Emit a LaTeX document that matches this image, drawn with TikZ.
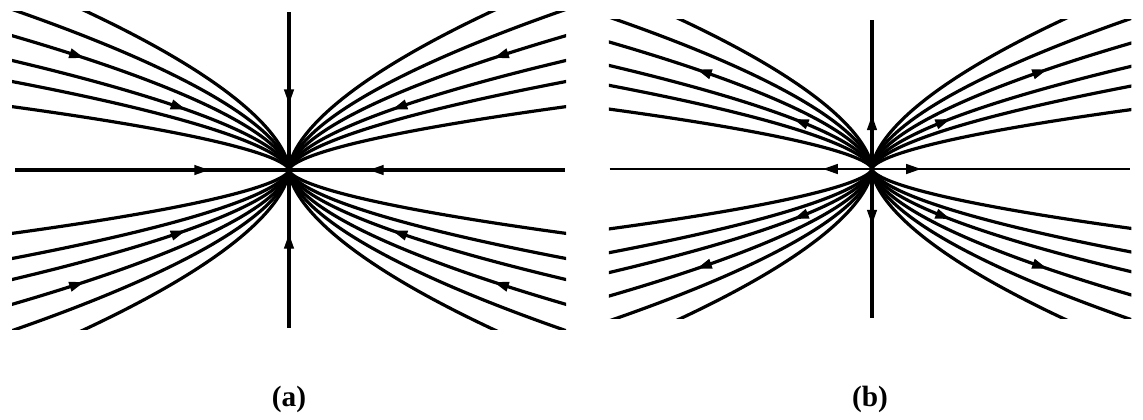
\documentclass[tikz,border=0pt]{standalone}
\usepackage{fontspec}
\setmainfont{Liberation Serif}
\usetikzlibrary{arrows.meta}
\tikzset{
  traj/.style={line width=2.4pt, line cap=round},
  axisline/.style={line width=2.4pt},
  thinaxis/.style={line width=1.6pt},
  arr/.style={-{Triangle[length=11pt,width=7.5pt]}, line width=1pt},
  lbl/.style={font=\bfseries\fontsize{22}{26}\selectfont}
}
\newcommand\trajset{%
  \foreach \C in {2.17,3.03,3.75,4.6,5.5,6.55}{%
    \foreach \sx in {-1,1}{%
      \foreach \sy in {-1,1}{%
        \draw[traj] plot[domain=0:3.3,samples=90,smooth]
          ({\sx*\x*\x*\x*\x*\x},{\sy*\C*\x*\x*\x});
      }}}}
% #1 = C, #2 = t0, #3 = sx, #4 = sy, #5 = direction (+1 outward, -1 inward)
\newcommand\phasearrow[5]{%
  \pgfmathsetmacro\pta{#2-#5*0.02}%
  \pgfmathsetmacro\ptb{#2}%
  \draw[arr] ({#3*\pta*\pta*\pta*\pta*\pta},{#4*#1*\pta*\pta*\pta})
          -- ({#3*\ptb*\ptb*\ptb*\ptb*\ptb},{#4*#1*\ptb*\ptb*\ptb});
}
\begin{document}
\begin{tikzpicture}[x=0.75pt,y=-0.75pt]
\useasboundingbox (0,0) rectangle (1143,419);
% ---------------- panel (a): stable node ----------------
\begin{scope}[shift={(289,170)}]
  \begin{scope}
    \clip (-277,-159) rectangle (277,159);
    \trajset
    \draw[axisline] (-274,0) -- (276,0);
    \draw[axisline] (0,-158) -- (0,158);
  \end{scope}
  \foreach \sx in {-1,1}{\foreach \sy in {-1,1}{%
    \phasearrow{4.6}{2.90}{\sx}{\sy}{-1}
    \phasearrow{3.75}{2.53}{\sx}{\sy}{-1}
  }}
  \draw[arr] (-94,0) -- (-80,0);
  \draw[arr] (94,0) -- (80,0);
  \draw[arr] (0,-82) -- (0,-66);
  \draw[arr] (0,80) -- (0,64);
\end{scope}
% ---------------- panel (b): unstable node ----------------
\begin{scope}[shift={(872,169)},scale=0.94]
  \begin{scope}
    \clip (-280,-159) rectangle (276,159);
    \trajset
    \draw[thinaxis] (-279,0) -- (274,0);
    \draw[axisline] (0,-158) -- (0,158);
  \end{scope}
  \foreach \sx in {-1,1}{\foreach \sy in {-1,1}{%
    \phasearrow{4.6}{2.844}{\sx}{\sy}{1}
    \phasearrow{3.75}{2.42}{\sx}{\sy}{1}
  }}
  \draw[arr] (-36,0) -- (-52,0);
  \draw[arr] (36,0) -- (52,0);
  \draw[arr] (0,-40) -- (0,-57);
  \draw[arr] (0,42) -- (0,59);
\end{scope}
% ---------------- labels ----------------
\node[lbl] (la) at (289,399) {(a)};
\node[lbl] (lb) at (870,399) {(b)};
\end{tikzpicture}
\end{document}
